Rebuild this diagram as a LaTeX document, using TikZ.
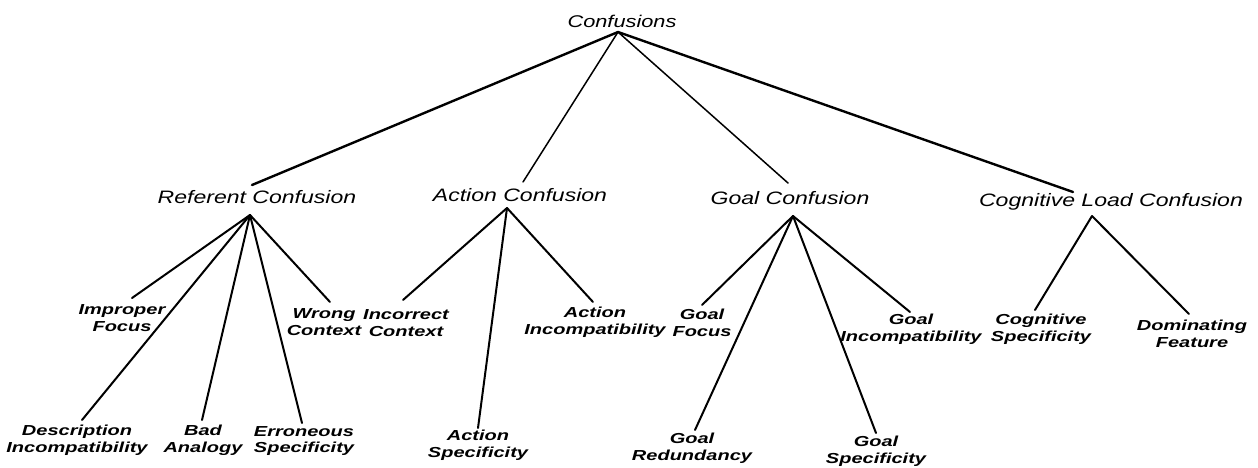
\documentclass[tikz,border=0pt]{standalone}
\usepackage{fontspec}
\newfontfamily\scanfont[FakeStretch=1.28]{Liberation Sans}
\newfontfamily\leaffont[FakeStretch=1.38]{Liberation Sans}
\begin{document}
\begin{tikzpicture}[x=1pt,y=-1pt,
  rootlabel/.style={font=\scanfont\itshape\fontsize{17}{19}\selectfont, inner sep=0pt},
  midlabel/.style={font=\scanfont\itshape\fontsize{18}{20}\selectfont, inner sep=0pt},
  leaflabel/.style={font=\leaffont\bfseries\itshape\fontsize{14.5}{16.5}\selectfont, inner sep=0pt, align=center},
  topedge/.style={line width=2.4pt, line cap=round},
  thinedge/.style={line width=1.5pt, line cap=round},
  leafedge/.style={line width=2pt, line cap=round}]
\useasboundingbox (0,0) rectangle (1258,467);

% root
\node[rootlabel] (root) at (622,21) {Confusions};
\coordinate (rootO) at (618,32);

% level 1
\node[midlabel] (ref) at (257,197) {Referent Confusion};
\node[midlabel] (act) at (520,195) {Action Confusion};
\node[midlabel] (goal) at (790,198) {Goal Confusion};
\node[midlabel] (cog) at (1111,202) {Cognitive Load Confusion};
\coordinate (refI) at (252,185);  \coordinate (refO) at (250,215);
\coordinate (actI) at (523,182);  \coordinate (actO) at (507,208);
\coordinate (goalI) at (788,183); \coordinate (goalO) at (793,216);
\coordinate (cogI) at (1073,192); \coordinate (cogO) at (1092,216);

% leaves
\node[leaflabel] (impf) at (122,318) {Improper\\Focus};
\node[leaflabel] (wrc) at (324,322) {Wrong\\Context};
\node[leaflabel] (desc) at (77,440) {Description\\Incompatibility};
\node[leaflabel] (bad) at (203,440) {Bad\\Analogy};
\node[leaflabel] (err) at (304,441) {Erroneous\\Specificity};
\node[leaflabel] (inc) at (406,323) {Incorrect\\Context};
\node[leaflabel] (aci) at (595,322) {Action\\Incompatibility};
\node[leaflabel] (acs) at (478,445) {Action\\Specificity};
\node[leaflabel] (gf) at (702,323) {Goal\\Focus};
\node[leaflabel] (gr) at (692,448) {Goal\\Redundancy};
\node[leaflabel] (gs) at (876,451) {Goal\\Specificity};
\node[leaflabel] (gi) at (911,329) {Goal\\Incompatibility};
\node[leaflabel] (cs) at (1041,329) {Cognitive\\Specificity};
\node[leaflabel] (df) at (1192,334) {Dominating\\Feature};

\coordinate (impfI) at (132,298);
\coordinate (wrcI) at (330,302);
\coordinate (descI) at (82,420);
\coordinate (badI) at (202,420);
\coordinate (errI) at (302,423);
\coordinate (incI) at (403,300);
\coordinate (aciI) at (593,302);
\coordinate (acsI) at (478,428);
\coordinate (gfI) at (702,305);
\coordinate (grI) at (695,430);
\coordinate (gsI) at (876,433);
\coordinate (giI) at (910,312);
\coordinate (csI) at (1035,310);
\coordinate (dfI) at (1189,314);

% root edges
\draw[topedge] (rootO) -- (refI);
\draw[thinedge] (rootO) -- (actI);
\draw[thinedge] (rootO) -- (goalI);
\draw[topedge] (rootO) -- (cogI);

% leaf edges
\foreach \c in {impfI,wrcI,descI,badI,errI} \draw[leafedge] (refO) -- (\c);
\foreach \c in {incI,aciI,acsI} \draw[leafedge] (actO) -- (\c);
\foreach \c in {gfI,grI,gsI,giI} \draw[leafedge] (goalO) -- (\c);
\foreach \c in {csI,dfI} \draw[leafedge] (cogO) -- (\c);
\end{tikzpicture}
\end{document}
